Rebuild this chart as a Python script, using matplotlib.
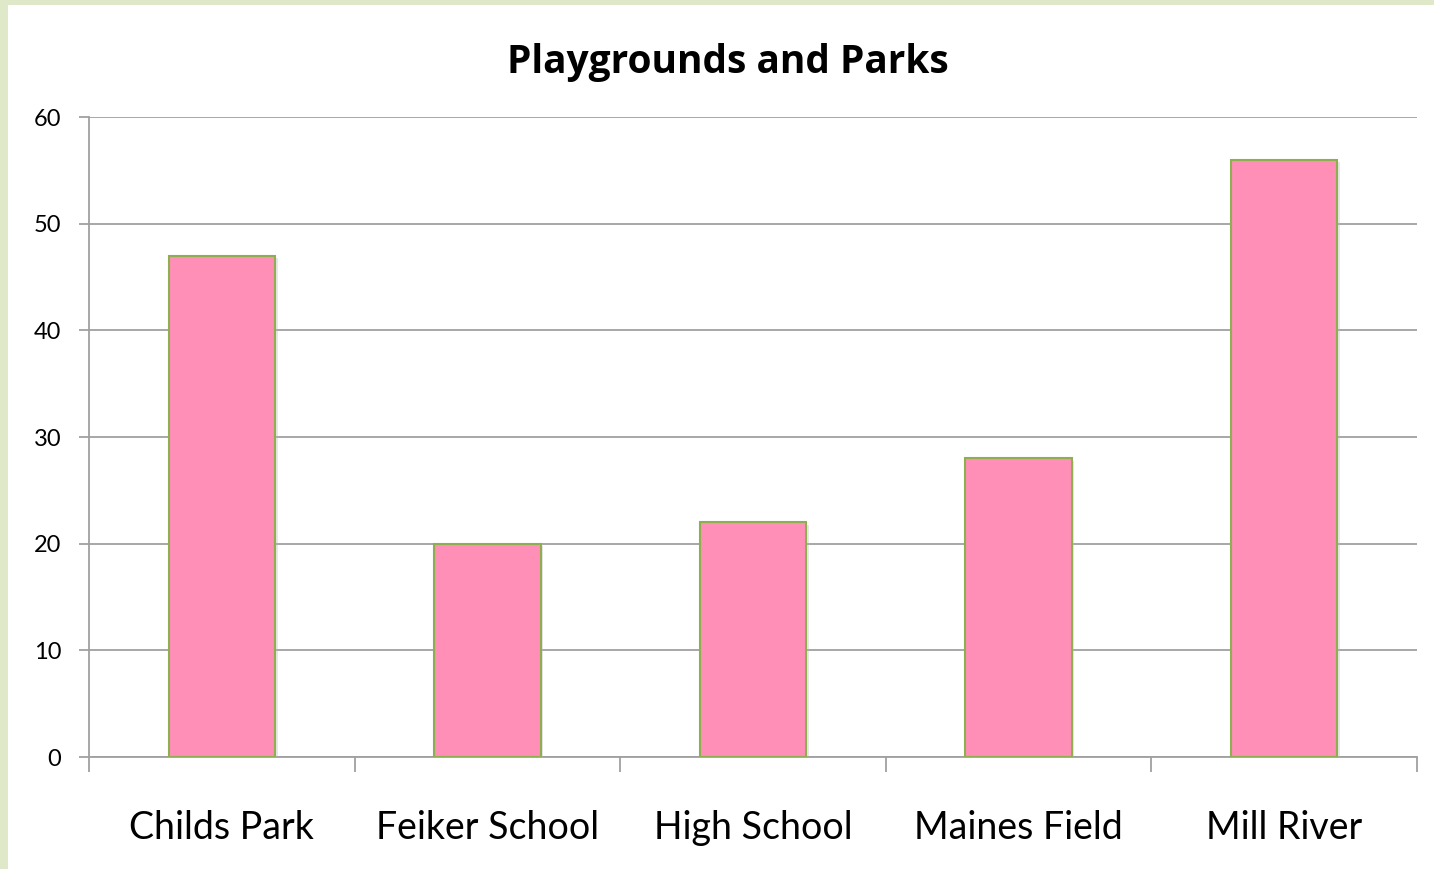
import matplotlib.pyplot as plt
import matplotlib.patches as mpatches
import matplotlib.patheffects as pe
import numpy as np

CATEGORIES = ['Childs Park', 'Feiker School', 'High School', 'Maines Field', 'Mill River']
VALUES = [47, 20, 22, 28, 56]
YTICKS = [0, 10, 20, 30, 40, 50, 60]
TITLE = 'Playgrounds and Parks'

BAR_COLOR = '#FF8FB6'
EDGE_COLOR = '#8FAE4F'
GRID_COLOR = '#A0A0A0'
BORDER_COLOR = '#DFE8C8'

plt.rcParams['font.family'] = ['Lato', 'DejaVu Sans']

if __name__ == '__main__':
    fig = plt.figure(figsize=(14.34, 8.69), dpi=100, facecolor=BORDER_COLOR)
    # white chart area inside the green frame
    fig.patches.append(mpatches.Rectangle((8 / 1434, 0), 1, 1 - 5 / 869,
                                          transform=fig.transFigure, facecolor='white',
                                          edgecolor='none', zorder=-10))

    ax = fig.add_axes([89 / 1434, 1 - 757 / 869, (1417 - 89) / 1434, (757 - 117) / 869])
    ax.set_facecolor('none')

    x = np.arange(len(CATEGORIES))
    bars = ax.bar(x, VALUES, width=0.4, color=BAR_COLOR, edgecolor=EDGE_COLOR, linewidth=1.5, zorder=3)
    for b in bars:
        b.set_path_effects([pe.SimplePatchShadow(offset=(2, -2), shadow_rgbFace='#BBBBBB', alpha=0.35),
                            pe.Normal()])

    ax.set_xlim(-0.5, len(CATEGORIES) - 0.5)
    ax.set_ylim(0, 60)
    ax.set_yticks(YTICKS)
    ax.set_yticklabels([str(v) for v in YTICKS], fontsize=17)
    ax.yaxis.grid(True, color=GRID_COLOR, linewidth=1.3, zorder=1)
    ax.set_axisbelow(True)

    ax.set_xticks(x)
    ax.set_xticklabels(CATEGORIES, fontsize=27)
    ax.tick_params(axis='x', which='major', length=0, pad=38)
    ax.set_xticks(np.arange(-0.5, len(CATEGORIES)), minor=True)
    ax.tick_params(axis='x', which='minor', length=11, width=1.3, color=GRID_COLOR)
    ax.tick_params(axis='y', length=7, width=1.3, color=GRID_COLOR, pad=13)

    for side in ['top', 'right']:
        ax.spines[side].set_visible(False)
    for side in ['left', 'bottom']:
        ax.spines[side].set_color(GRID_COLOR)
        ax.spines[side].set_linewidth(1.3)

    fig.text(727.5 / 1434, 1 - 62 / 869, TITLE, ha='center', va='center',
             fontsize=28, fontweight='bold', family=['Open Sans', 'DejaVu Sans'])

    fig.savefig('out.png', dpi=100, facecolor=fig.get_facecolor())
